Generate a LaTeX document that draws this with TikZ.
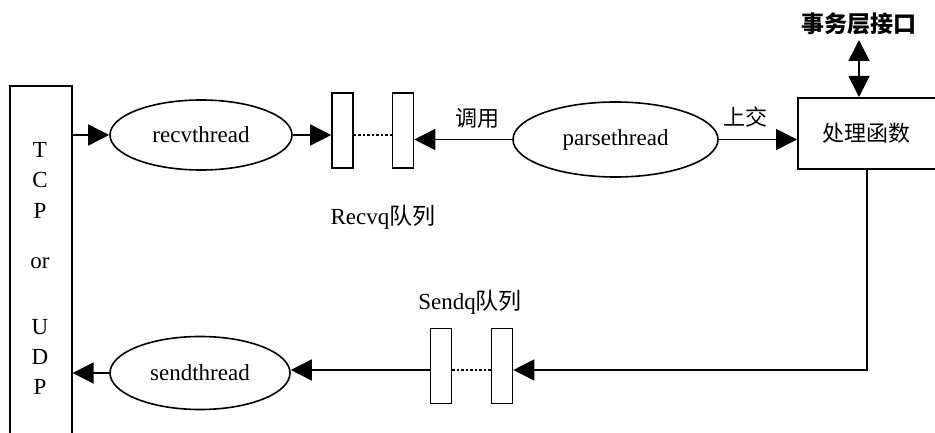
\documentclass[tikz,border=0pt]{standalone}
\usepackage{fontspec}
\setmainfont{Liberation Serif}
\newfontfamily\cjk{Noto Sans CJK SC}
\usetikzlibrary{arrows.meta,shapes.geometric}
\begin{document}
\begin{tikzpicture}[x=1pt,y=-1pt,line width=1.6pt,
  every node/.style={inner sep=0pt,font=\fontsize{23}{27}\selectfont},
  thread/.style={draw,ellipse,minimum width=182pt,minimum height=70pt},
  qbox/.style={draw,rectangle,minimum width=21pt,minimum height=75pt},
  arr/.style={-{Triangle[length=21pt,width=21pt]}},
  dbl/.style={{Triangle[length=21pt,width=21pt]}-{Triangle[length=21pt,width=21pt]}},
  dots/.style={dash pattern=on 2.5pt off 2pt,line width=2pt},
  cn/.style={font=\cjk\fontsize{22}{26}\selectfont}]
\path[use as bounding box,fill=white] (0,0) rectangle (935,433);

% TCP or UDP box
\node[draw,minimum width=62pt,minimum height=360pt,anchor=north west] (tcp) at (9,85) {};
\node (l1) at (40,150) {T};
\node (l2) at (40,180) {C};
\node (l3) at (40,211) {P};
\node (l4) at (40,263) {or};
\node (l5) at (40,327) {U};
\node (l6) at (40,357) {D};
\node (l7) at (40,387) {P};

% receive path
\node[thread] (recv) at (201,135) {recvthread};
\node[qbox] (q1) at (342.5,130.5) {};
\node[qbox] (q2) at (403,130.5) {};
\draw[dots] ([yshift=-4.5pt]q1.east) -- ([yshift=-4.5pt]q2.west);
\node (rq) at (383,217) {Recvq{\cjk 队列}};
\draw[arr] (tcp.east |- recv.west) -- (recv.west);
\draw[arr] (recv.east) -- (recv.east -| q1.west);

\node[thread,minimum width=205pt,minimum height=75pt] (parse) at (615.5,139.5) {parsethread};
\draw[arr] (parse.west) -- (parse.west -| q2.east);
\node[cn] (call) at (477,118) {调用};

% processing box
\node[draw,minimum width=160pt,minimum height=71pt,anchor=north west] (proc) at (797,97) {};
\node[cn] (proct) at (866,133) {处理函数};
\draw[arr] (parse.east) -- (parse.east -| proc.west);
\node[cn] (up) at (745,117) {上交};

\node[font=\cjk\bfseries\fontsize{23}{27}\selectfont] (iface) at (859,24) {事务层接口};
\coordinate (ifa) at (859,40);
\draw[dbl] (ifa) -- (ifa |- proc.north);

% send path
\node[qbox] (sq1) at (441,366) {};
\node[qbox] (sq2) at (502,366) {};
\draw[dots] ([yshift=-4pt]sq1.east) -- ([yshift=-4pt]sq2.west);
\node (sq) at (470,302) {Sendq{\cjk 队列}};
\coordinate (corner) at (867,370);
\draw[arr] (corner |- proc.south) -- (corner) -- (corner -| sq2.east);

\node[thread,minimum width=180pt,minimum height=73pt] (send) at (200,373) {sendthread};
\draw[arr] (sq1.west |- corner) -- (send.east |- corner);
\draw[arr] (send.west) -- (send.west -| tcp.east);
\end{tikzpicture}
\end{document}
